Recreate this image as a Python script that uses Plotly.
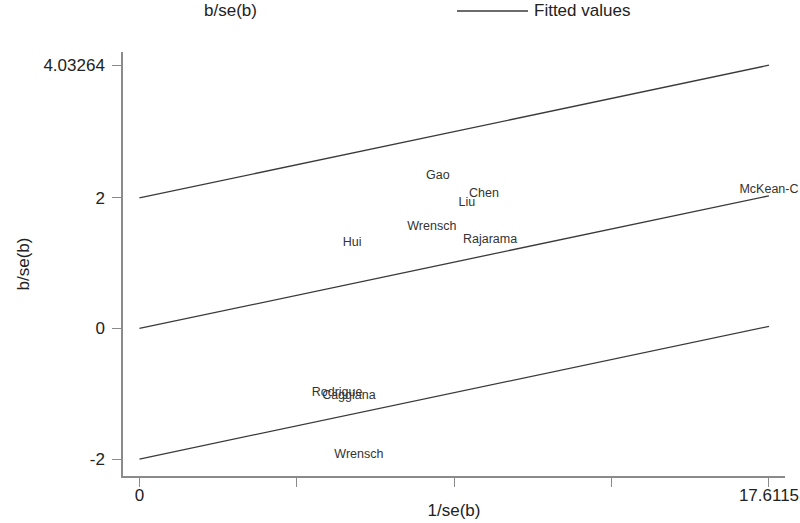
"""
Galbraith plot: b/se(b) against 1/se(b) with fitted line and +/-2 bounds.
"""

import plotly.graph_objects as go

# ── Data ──────────────────────────────────────────────────────────────────────
STUDIES = ["Gao", "Chen", "Liu", "Wrensch", "Rajarama", "Hui", "McKean-C",
           "Rodrigue", "Caggiana", "Wrensch"]
INV_SE = [8.35, 9.64, 9.16, 8.18, 9.81, 5.95, 17.6115, 5.53, 5.86, 6.14]
Z_SCORE = [2.33, 2.06, 1.92, 1.55, 1.35, 1.31, 2.12, -0.99, -1.04, -1.94]

FIT_X = [0, 17.6115]
FIT_MID = [0, 2.03264]
FIT_UPPER = [2, 4.03264]
FIT_LOWER = [-2, 0.03264]

X_TICKS = [0, 4.402875, 8.80575, 13.208625, 17.6115]
X_TICKTEXT = ["0", "", "", "", "17.6115"]
Y_TICKS = [-2, 0, 2, 4.03264]
Y_TICKTEXT = ["-2", "0", "2", "4.03264"]

# ── Style ─────────────────────────────────────────────────────────────────────
FONT = "Liberation Sans, Arial, sans-serif"
LINE = "#3a3a3a"
AXIS = "#8a8a8a"
TEXT = "#222222"

W, H = 800, 523
M_L, M_R, M_T, M_B = 123, 15, 52, 47
PLOT_W = W - M_L - M_R
PLOT_H = H - M_T - M_B

# drop the default 8px body margin so the figure fills the window exactly
NO_BODY_MARGIN = "document.body.style.margin='0';"


def px_x(px: float) -> float:
    return (px - M_L) / PLOT_W


def px_y(py: float) -> float:
    return 1 + (M_T - py) / PLOT_H


fig = go.Figure()

for ys in (FIT_UPPER, FIT_MID, FIT_LOWER):
    fig.add_trace(
        go.Scatter(
            x=FIT_X, y=ys, mode="lines",
            line=dict(color=LINE, width=1.3),
            showlegend=False, hoverinfo="skip",
        )
    )

fig.add_trace(
    go.Scatter(
        x=INV_SE, y=Z_SCORE, mode="text", text=STUDIES,
        textposition="middle center",
        textfont=dict(family=FONT, size=12.5, color="#333333"),
        cliponaxis=False,
        showlegend=False,
    )
)

# ── Legend (drawn by hand so the line key matches the original length) ───────
fig.add_annotation(
    x=px_x(202), y=px_y(11), xref="paper", yref="paper",
    text="b/se(b)", showarrow=False, xanchor="left", yanchor="middle",
    font=dict(family=FONT, size=17, color=TEXT),
)
fig.add_shape(
    type="line", xref="paper", yref="paper",
    x0=px_x(457), x1=px_x(528), y0=px_y(11), y1=px_y(11),
    line=dict(color=LINE, width=1.3),
)
fig.add_annotation(
    x=px_x(532), y=px_y(11), xref="paper", yref="paper",
    text="Fitted values", showarrow=False, xanchor="left", yanchor="middle",
    font=dict(family=FONT, size=17, color=TEXT),
)

axis_common = dict(
    showgrid=False, zeroline=False, showline=True,
    linecolor=AXIS, linewidth=1.5,
    ticks="outside", ticklen=9, tickwidth=1.3, tickcolor=AXIS,
    tickfont=dict(family=FONT, size=17, color=TEXT),
    title_font=dict(family=FONT, size=17, color=TEXT),
    automargin=False,
)

fig.update_layout(
    width=W, height=H,
    paper_bgcolor="white", plot_bgcolor="white",
    margin=dict(l=M_L, r=M_R, t=M_T, b=M_B),
    showlegend=False,
    xaxis=dict(
        **axis_common, range=[-0.46, 18.06],
        tickmode="array", tickvals=X_TICKS, ticktext=X_TICKTEXT,
        ticklabelstandoff=-6,
        title=dict(text="1/se(b)", standoff=0),
    ),
    yaxis=dict(
        **axis_common, range=[-2.26, 4.235],
        tickmode="array", tickvals=Y_TICKS, ticktext=Y_TICKTEXT,
        ticklabelstandoff=4,
        title=dict(text="b/se(b)", standoff=9),
    ),
)

fig.write_html(
    "out.html",
    post_script=NO_BODY_MARGIN,
    config={"displayModeBar": False},
)
